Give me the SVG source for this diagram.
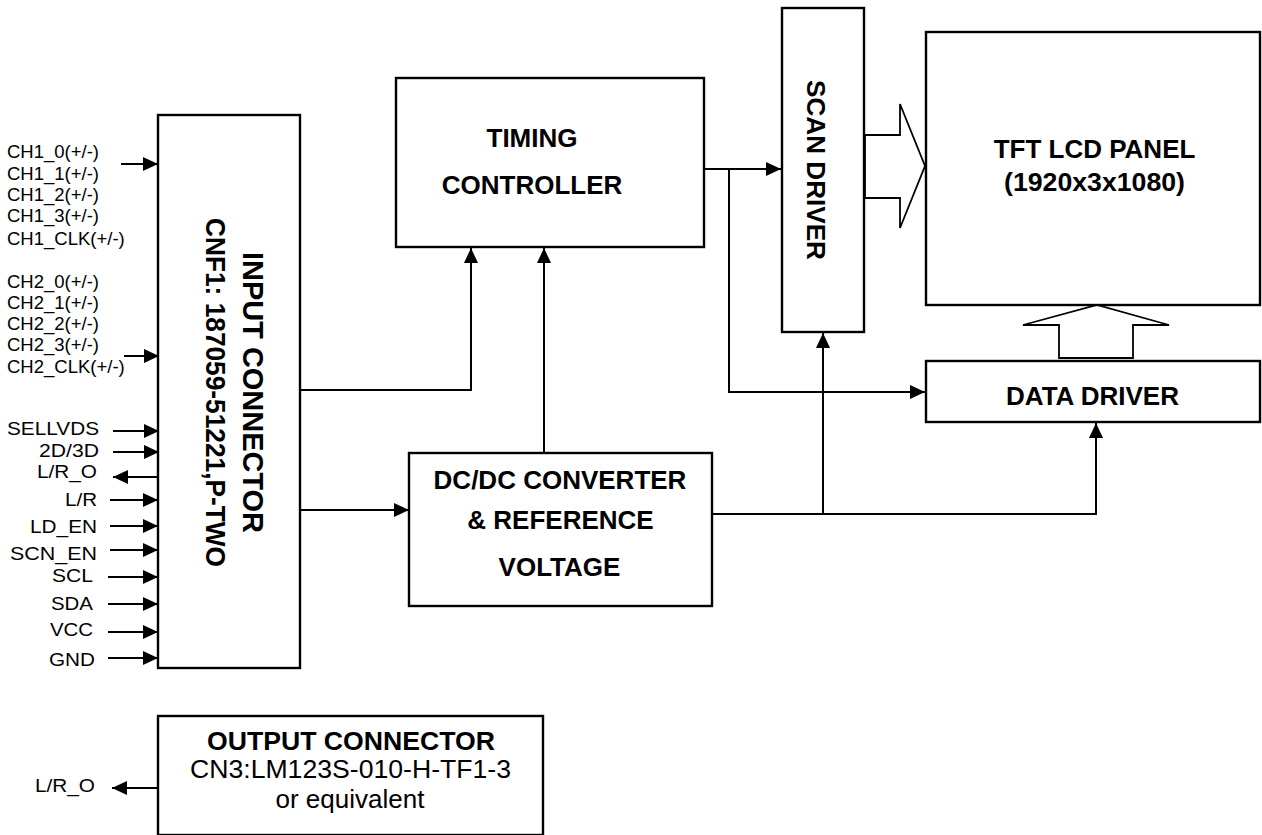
<svg xmlns="http://www.w3.org/2000/svg" width="1262" height="835" viewBox="0 0 1262 835">
<style>
text{font-family:"Liberation Sans",Arial,sans-serif;fill:#000}
.s{font-size:18.5px}
.b{font-size:26px;font-weight:bold}
.r{font-size:25px}
.box{fill:#fff;stroke:#000;stroke-width:2.4}
.hol{fill:#fff;stroke:#000;stroke-width:1.8;stroke-linejoin:miter}
.ln{fill:none;stroke:#000;stroke-width:2}
.arr{marker-end:url(#ah)}
</style>
<defs>
<marker id="ah" markerUnits="userSpaceOnUse" markerWidth="16" markerHeight="16" refX="15" refY="7" orient="auto">
<path d="M0,0 L15,7 L0,14 z" fill="#000"/>
</marker>
</defs>
<rect width="1262" height="835" fill="#fff"/>

<g id="connectors">
<path class="ln arr" d="M301,390 H471 V248"/>
<path class="ln arr" d="M544,453 V248"/>
<path class="ln arr" d="M301,510 H409"/>
<path class="ln arr" d="M704,169 H781"/>
<path class="ln arr" d="M729,169 V392 H925"/>
<path class="ln arr" d="M712,514 H1096 V423"/>
<path class="ln arr" d="M823,514 V333"/>
<line class="ln arr" x1="121" y1="164" x2="158" y2="164"/>
<line class="ln arr" x1="124" y1="356" x2="159" y2="356"/>
<line class="ln arr" x1="113" y1="431" x2="159" y2="431"/>
<line class="ln arr" x1="113" y1="452" x2="159" y2="452"/>
<line class="ln arr" x1="158" y1="477" x2="113" y2="477"/>
<line class="ln arr" x1="110" y1="500" x2="158" y2="500"/>
<line class="ln arr" x1="110" y1="526" x2="158" y2="526"/>
<line class="ln arr" x1="110" y1="550" x2="158" y2="550"/>
<line class="ln arr" x1="108" y1="577" x2="158" y2="577"/>
<line class="ln arr" x1="108" y1="604" x2="158" y2="604"/>
<line class="ln arr" x1="108" y1="632" x2="158" y2="632"/>
<line class="ln arr" x1="108" y1="658" x2="158" y2="658"/>
<line class="ln arr" x1="158" y1="788" x2="112" y2="788"/>
<polygon class="hol" points="865,135 900,135 900,104 925,166 900,228 900,198 865,198"/>
<polygon class="hol" points="1059,358 1059,325 1023,325 1097,305 1169,325 1133,325 1133,358"/>
</g>

<g id="signals">
<text class="s" x="7" y="158">CH1_0(+/-)</text>
<text class="s" x="7" y="180">CH1_1(+/-)</text>
<text class="s" x="7" y="201">CH1_2(+/-)</text>
<text class="s" x="7" y="222">CH1_3(+/-)</text>
<text class="s" x="7" y="245">CH1_CLK(+/-)</text>
<text class="s" x="7" y="288">CH2_0(+/-)</text>
<text class="s" x="7" y="309">CH2_1(+/-)</text>
<text class="s" x="7" y="330">CH2_2(+/-)</text>
<text class="s" x="7" y="351">CH2_3(+/-)</text>
<text class="s" x="7" y="373">CH2_CLK(+/-)</text>
<text class="s" x="99" y="435" text-anchor="end" textLength="92" lengthAdjust="spacingAndGlyphs">SELLVDS</text>
<text class="s" x="99" y="457" text-anchor="end" textLength="60" lengthAdjust="spacingAndGlyphs">2D/3D</text>
<text class="s" x="97" y="478" text-anchor="end" textLength="60" lengthAdjust="spacingAndGlyphs">L/R_O</text>
<text class="s" x="97" y="506" text-anchor="end" textLength="32" lengthAdjust="spacingAndGlyphs">L/R</text>
<text class="s" x="97" y="533" text-anchor="end" textLength="67" lengthAdjust="spacingAndGlyphs">LD_EN</text>
<text class="s" x="97" y="560" text-anchor="end" textLength="87" lengthAdjust="spacingAndGlyphs">SCN_EN</text>
<text class="s" x="93" y="582" text-anchor="end" textLength="41" lengthAdjust="spacingAndGlyphs">SCL</text>
<text class="s" x="93" y="610" text-anchor="end" textLength="42" lengthAdjust="spacingAndGlyphs">SDA</text>
<text class="s" x="93" y="636" text-anchor="end" textLength="43" lengthAdjust="spacingAndGlyphs">VCC</text>
<text class="s" x="95" y="666" text-anchor="end" textLength="46" lengthAdjust="spacingAndGlyphs">GND</text>
<text class="s" x="95" y="792" text-anchor="end" textLength="60" lengthAdjust="spacingAndGlyphs">L/R_O</text>
</g>

<g id="input-connector">
<rect class="box" x="158" y="115" width="142" height="553"/>
<text class="b" style="font-size:29px" text-anchor="middle" transform="translate(243,392.5) rotate(90)" textLength="281" lengthAdjust="spacingAndGlyphs">INPUT CONNECTOR</text>
<text class="b" style="font-size:28px" text-anchor="middle" transform="translate(206,392.5) rotate(90)" textLength="349" lengthAdjust="spacingAndGlyphs">CNF1: 187059-51221,P-TWO</text>
</g>

<g id="timing-controller">
<rect class="box" x="396" y="78" width="308" height="169"/>
<text class="b" x="532" y="147" text-anchor="middle">TIMING</text>
<text class="b" x="532" y="194" text-anchor="middle">CONTROLLER</text>
</g>

<g id="scan-driver">
<rect class="box" x="782" y="8" width="82" height="324"/>
<text class="b" text-anchor="middle" transform="translate(807,170) rotate(90)" textLength="180" lengthAdjust="spacingAndGlyphs">SCAN DRIVER</text>
</g>

<g id="tft-panel">
<rect class="box" x="926" y="32" width="334" height="273"/>
<text class="b" x="1094.5" y="158" text-anchor="middle">TFT LCD PANEL</text>
<text class="b" x="1094.5" y="191" text-anchor="middle" textLength="181" lengthAdjust="spacingAndGlyphs">(1920x3x1080)</text>
</g>

<g id="data-driver">
<rect class="box" x="926" y="361" width="334" height="61"/>
<text class="b" x="1092.5" y="405" text-anchor="middle" textLength="173" lengthAdjust="spacingAndGlyphs">DATA DRIVER</text>
</g>

<g id="dcdc-converter">
<rect class="box" x="409" y="453" width="303" height="153"/>
<text class="b" x="560" y="489" text-anchor="middle">DC/DC CONVERTER</text>
<text class="b" x="560.5" y="529" text-anchor="middle">&amp; REFERENCE</text>
<text class="b" x="559.5" y="576" text-anchor="middle">VOLTAGE</text>
</g>

<g id="output-connector">
<rect class="box" x="158" y="716" width="385" height="119"/>
<text class="b" x="351" y="750" text-anchor="middle" textLength="288" lengthAdjust="spacingAndGlyphs">OUTPUT CONNECTOR</text>
<text class="r" x="350.5" y="778" text-anchor="middle" textLength="321" lengthAdjust="spacingAndGlyphs">CN3:LM123S-010-H-TF1-3</text>
<text class="r" x="350" y="808" text-anchor="middle" textLength="149" lengthAdjust="spacingAndGlyphs">or equivalent</text>
</g>
</svg>
